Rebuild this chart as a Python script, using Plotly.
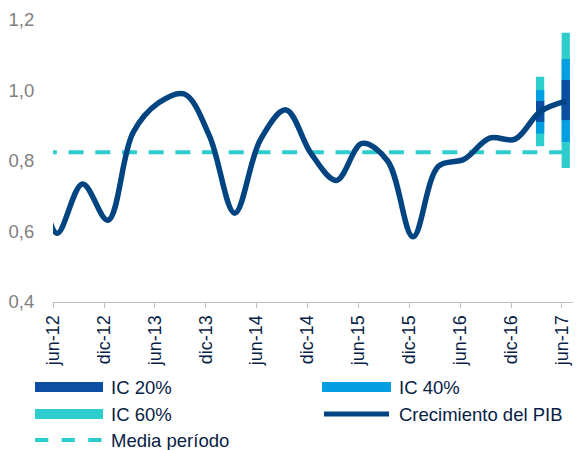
import plotly.graph_objects as go

# ---------------- data ----------------
fechas = ["2012-03-15", "2012-06-15", "2012-09-15", "2012-12-15",
          "2013-03-15", "2013-06-15", "2013-09-15", "2013-12-15",
          "2014-03-15", "2014-06-15", "2014-09-15", "2014-12-15",
          "2015-03-15", "2015-06-15", "2015-09-15", "2015-12-15",
          "2016-03-15", "2016-06-15", "2016-09-15", "2016-12-15",
          "2017-03-15", "2017-06-15"]
crecimiento_pib = [0.95, 0.595, 0.735, 0.632,
                   0.88, 0.965, 0.99, 0.87,
                   0.652, 0.86, 0.945, 0.82,
                   0.745, 0.85, 0.80, 0.585,
                   0.785, 0.805, 0.865, 0.862,
                   0.94, 0.97]
media_periodo = 0.825

fan_fechas = ["2017-03-15", "2017-06-15"]
ic60_low = [0.842, 0.780]
ic60_high = [1.039, 1.164]
ic40_low = [0.878, 0.854]
ic40_high = [1.001, 1.089]
ic20_low = [0.911, 0.916]
ic20_high = [0.970, 1.030]

tick_fechas = ["2012-06-01", "2012-12-01", "2013-06-01", "2013-12-01",
               "2014-06-01", "2014-12-01", "2015-06-01", "2015-12-01",
               "2016-06-01", "2016-12-01", "2017-06-01"]
tick_labels = ["jun-12", "dic-12", "jun-13", "dic-13", "jun-14", "dic-14",
               "jun-15", "dic-15", "jun-16", "dic-16", "jun-17"]

# ---------------- styles ----------------
NAVY = "#004481"
C20 = "#0B4EA2"
C40 = "#049FE2"
C60 = "#2DCCCD"
TXT = "#072146"
FONT = "Liberation Sans, Arial, sans-serif"
BAR_W = 29.5 * 86400000

fig = go.Figure()

for name, lo, hi, col in [("IC 60%", ic60_low, ic60_high, C60),
                          ("IC 40%", ic40_low, ic40_high, C40),
                          ("IC 20%", ic20_low, ic20_high, C20)]:
    fig.add_trace(go.Bar(
        x=fan_fechas, y=[h - l for h, l in zip(hi, lo)], base=lo,
        width=BAR_W, marker=dict(color=col, line=dict(width=0)),
        name=name, showlegend=False))

fig.add_trace(go.Scatter(
    x=[fechas[0], fechas[-1]], y=[media_periodo, media_periodo],
    mode="lines", line=dict(color=C60, width=4, dash="0px,10.6px,15px,1.1px"),
    name="Media período", showlegend=False))

fig.add_trace(go.Scatter(
    x=fechas, y=crecimiento_pib, mode="lines",
    line=dict(color=NAVY, width=5.5, shape="spline", smoothing=1),
    name="Crecimiento del PIB", showlegend=False))

# ---------------- custom legend ----------------
L, R, T, B = 53, 3, 20, 148
W, H = 576, 450
pw, ph = W - L - R, H - T - B


def px(x):
    return (x - L) / pw


def py(y):
    return (H - B - y) / ph


shapes = []
annots = []
items = [
    ("rect", C20, "IC 20%", 35, 103, 387),
    ("rect", C40, "IC 40%", 322, 391, 387),
    ("rect", C60, "IC 60%", 35, 103, 414),
    ("line", NAVY, "Crecimiento del PIB", 322, 391, 414),
    ("dash", C60, "Media período", 35, 103, 440),
]
for kind, col, label, x0, x1, yc in items:
    if kind == "rect":
        shapes.append(dict(type="rect", xref="paper", yref="paper",
                           x0=px(x0), x1=px(x1), y0=py(yc - 5), y1=py(yc + 5),
                           fillcolor=col, line=dict(width=0)))
    elif kind == "line":
        shapes.append(dict(type="line", xref="paper", yref="paper",
                           x0=px(x0 + 2), x1=px(x1 - 2), y0=py(yc), y1=py(yc),
                           line=dict(color=col, width=5)))
    else:
        shapes.append(dict(type="line", xref="paper", yref="paper",
                           x0=px(x0), x1=px(x1), y0=py(yc), y1=py(yc),
                           line=dict(color=col, width=4, dash="13.3px,13.3px")))
    annots.append(dict(xref="paper", yref="paper", x=px(x1 + 6), y=py(yc),
                       xanchor="left", yanchor="middle", showarrow=False,
                       text=label, font=dict(size=18.5, color=TXT, family=FONT)))

fig.update_layout(
    width=W, height=H,
    margin=dict(l=L, r=R, t=T, b=B, pad=0),
    paper_bgcolor="white", plot_bgcolor="white",
    separators=",.",
    barmode="overlay",
    showlegend=False,
    font=dict(family=FONT),
    shapes=shapes, annotations=annots,
    xaxis=dict(type="date", range=["2012-06-01", "2017-07-11"],
               tickmode="array", tickvals=tick_fechas, ticktext=tick_labels,
               tickangle=-90, ticks="outside", ticklen=5, tickcolor="#BFBFBF",
               showline=True, linecolor="#BFBFBF", linewidth=1,
               showgrid=False, zeroline=False, automargin=False,
               tickfont=dict(size=18, color=TXT, family=FONT)),
    yaxis=dict(range=[0.4, 1.2], tickmode="linear", tick0=0.4, dtick=0.2,
               tickformat=".1f", showgrid=False, zeroline=False, showline=False,
               ticks="outside", ticklen=14, tickcolor="rgba(0,0,0,0)",
               automargin=False,
               tickfont=dict(size=18.5, color="#808080", family=FONT)),
)

fig.write_html("out.html",
               config={"displayModeBar": False},
               post_script="document.body.style.margin='0';"
                           "document.body.style.overflow='hidden';")
